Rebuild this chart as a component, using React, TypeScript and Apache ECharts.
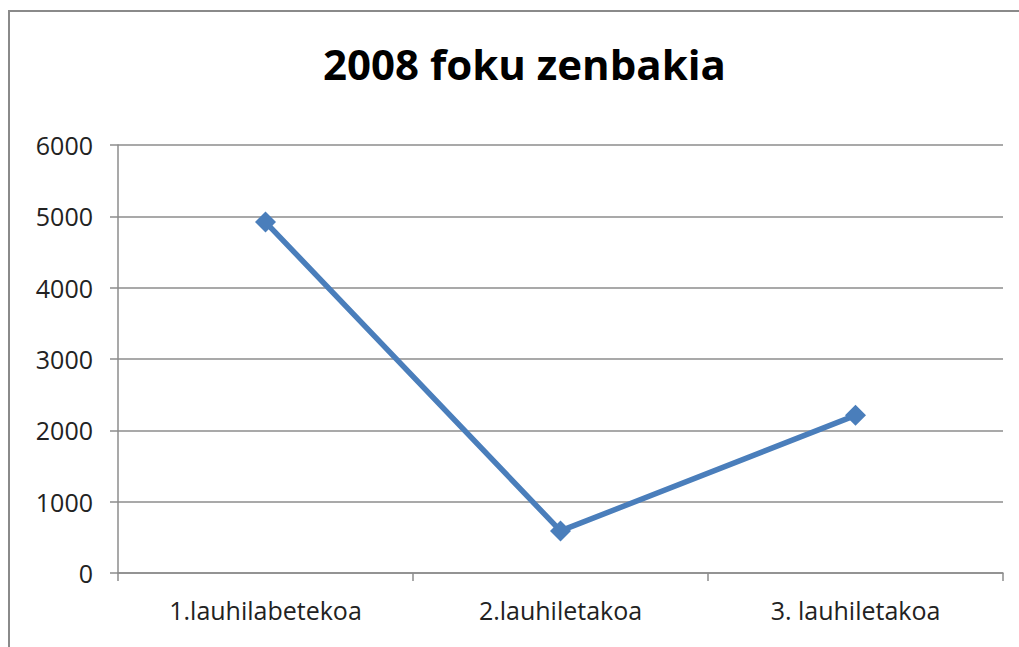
import React, { useEffect, useRef } from "react";
import * as echarts from "echarts";

const categories = ["1.lauhilabetekoa", "2.lauhiletakoa", "3. lauhiletakoa"];
const values = [4920, 590, 2210];
const yTicks = [0, 1000, 2000, 3000, 4000, 5000, 6000];

export default function App() {
  const ref = useRef<HTMLDivElement>(null);
  useEffect(() => {
    if (!ref.current) return;
    const chart = echarts.init(ref.current, null, { renderer: "svg" });
    const font = "'Open Sans', 'Liberation Sans', sans-serif";
    chart.setOption({
      animation: false,
      backgroundColor: "#ffffff",
      title: {
        text: "2008 foku zenbakia",
        left: 318,
        top: 37,
        textStyle: { fontFamily: font, fontSize: 42, fontWeight: "bold", color: "#000" },
      },
      graphic: [
        {
          type: "rect",
          shape: { x: 9, y: 11, width: 1030, height: 660 },
          style: { fill: "none", stroke: "#8a8a8a", lineWidth: 2 },
          silent: true,
        },
      ],
      grid: { left: 118, right: 16, top: 145, bottom: 74, containLabel: false },
      xAxis: {
        type: "category",
        data: categories,
        boundaryGap: true,
        axisLine: { lineStyle: { color: "#8c8c8c", width: 1.5 } },
        axisTick: { show: true, length: 8, alignWithLabel: false, lineStyle: { color: "#8c8c8c", width: 1.5 } },
        axisLabel: { fontFamily: font, fontSize: 25, color: "#222", margin: 24 },
      },
      yAxis: {
        type: "value",
        min: yTicks[0],
        max: yTicks[yTicks.length - 1],
        interval: 1000,
        axisLine: { show: true, lineStyle: { color: "#8c8c8c", width: 1.5 } },
        axisTick: { show: true, length: 8, lineStyle: { color: "#8c8c8c", width: 1.5 } },
        splitLine: { lineStyle: { color: "#8c8c8c", width: 1.5 } },
        axisLabel: {
          fontFamily: font,
          fontSize: 25,
          color: "#222",
          margin: 25,
          formatter: (v: number) => String(v),
        },
      },
      series: [
        {
          type: "line",
          data: values,
          symbol: "diamond",
          symbolSize: 21,
          lineStyle: { color: "#4a7ebb", width: 5.5 },
          itemStyle: { color: "#4a7ebb" },
        },
      ],
    });
    return () => chart.dispose();
  }, []);
  return (
    <div
      ref={ref}
      style={{ position: "absolute", left: 0, top: 0, width: 1019, height: 647 }}
    />
  );
}
